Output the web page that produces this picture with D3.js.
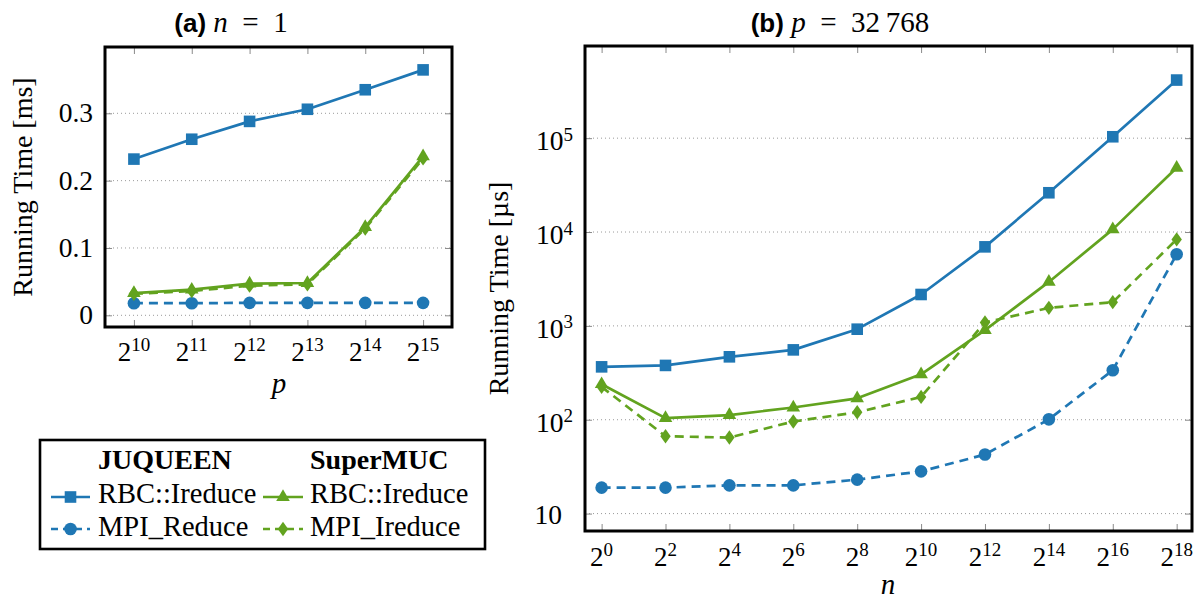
<!DOCTYPE html>
<html><head><meta charset="utf-8">
<script src="https://cdn.jsdelivr.net/npm/d3@7"></script>
<style>
body{margin:0;background:#fff}
svg{display:block}
text{white-space:pre}
</style></head><body>
<svg id="c" width="1201" height="600"></svg>
<script>
// ---------- data ----------
const leftExponents = [10, 11, 12, 13, 14, 15];           // p = 2^e
const leftYTicks = [0, 0.1, 0.2, 0.3];
const leftYTickLabels = ["0", "0.1", "0.2", "0.3"];
const leftRbcJuqueen   = [0.232, 0.2615, 0.288, 0.306, 0.335, 0.3645];
const leftMpiReduce    = [0.018, 0.018, 0.0185, 0.0185, 0.0185, 0.0185];
const leftRbcSuperMUC  = [0.033, 0.038, 0.047, 0.048, 0.131, 0.236];
const leftMpiIreduce   = [0.032, 0.036, 0.044, 0.046, 0.129, 0.233];

const rightExponents = [0, 2, 4, 6, 8, 10, 12, 14, 16, 18]; // n = 2^e
const rightYTicks = [10, 100, 1000, 10000, 100000];
const rightRbcJuqueen  = [366, 379, 468, 555, 922, 2160, 6950, 26200, 103500, 416000];
const rightMpiReduce   = [18.9, 18.9, 20.0, 20.0, 23.0, 28.2, 42.6, 101, 337, 5800];
const rightRbcSuperMUC = [239, 104, 112, 135, 169, 305, 900, 2940, 10670, 48300];
const rightMpiIreduce  = [224, 66.7, 64.6, 95.7, 120, 175, 1087, 1556, 1790, 8340];

const seriesLabels = ["RBC::Ireduce", "MPI_Reduce", "RBC::Ireduce", "MPI_Ireduce"];
const legendHeaders = ["JUQUEEN", "SuperMUC"];
const leftTitle = ["(a)", "n", "  =  1"];
const rightTitle = ["(b)", "p", "  =  32\u2009768"];
const leftYLabel = "Running Time [ms]";
const rightYLabel = "Running Time [\u00b5s]";
const leftXLabel = "p";
const rightXLabel = "n";

// ---------- styles ----------
const BLUE = "#1f77b4", GREEN = "#62a31f";
const SERIF = "'Liberation Serif','Times New Roman',serif";
const SANS = "'Liberation Sans',Arial,sans-serif";
const styles = [
  {color: BLUE,  dash: null,  mark: "square"},
  {color: BLUE,  dash: "9,6", mark: "circle"},
  {color: GREEN, dash: null,  mark: "triangle"},
  {color: GREEN, dash: "9,6", mark: "diamond"}
];

const svg = d3.select("#c");
svg.append("rect").attr("width", 1201).attr("height", 600).attr("fill", "#fff");

function drawMark(g, type, cx, cy, color) {
  if (type === "circle") {
    g.append("circle").attr("cx", cx).attr("cy", cy).attr("r", 6.3).attr("fill", color);
    return;
  }
  let d;
  if (type === "square") d = "M-5.8,-5.8H5.8V5.8H-5.8Z";
  else if (type === "triangle") d = "M0,-7.8L6.8,3.9L-6.8,3.9Z";
  else d = "M0,-7.2L5.2,0L0,7.2L-5.2,0Z";
  g.append("path").attr("d", d).attr("transform", `translate(${cx},${cy})`).attr("fill", color);
}

function panel(cfg) {
  const g = svg.append("g");
  const {x, y, left, right, top, bottom} = cfg;

  // grid
  g.append("g").selectAll("line").data(cfg.yTicks).join("line")
    .attr("x1", left).attr("x2", right)
    .attr("y1", d => y(d)).attr("y2", d => y(d))
    .attr("stroke", "#9a9a9a").attr("stroke-width", 1).attr("stroke-dasharray", "1,3");

  // tick marks via d3 axes
  const tickStyle = sel => {
    sel.select(".domain").remove();
    sel.selectAll(".tick line").attr("stroke", "#8a8a8a").attr("stroke-width", 1);
    sel.selectAll(".tick text").remove();
  };
  g.append("g").attr("transform", `translate(0,${bottom})`)
    .call(d3.axisBottom(x).tickValues(cfg.xTicks).tickSize(-7).tickFormat(() => "")).call(tickStyle);
  g.append("g").attr("transform", `translate(0,${top})`)
    .call(d3.axisTop(x).tickValues(cfg.xTicks).tickSize(-7).tickFormat(() => "")).call(tickStyle);
  g.append("g").attr("transform", `translate(${left},0)`)
    .call(d3.axisLeft(y).tickValues(cfg.yTicks).tickSize(-7).tickFormat(() => "")).call(tickStyle);
  g.append("g").attr("transform", `translate(${right},0)`)
    .call(d3.axisRight(y).tickValues(cfg.yTicks).tickSize(-7).tickFormat(() => "")).call(tickStyle);

  // x tick labels 2^e
  cfg.xTicks.forEach(e => {
    const t = g.append("text").attr("x", x(e)).attr("y", cfg.xLabelY)
      .attr("text-anchor", "middle").attr("font-family", SERIF).attr("font-size", 27).attr("fill", "#000");
    t.append("tspan").text("2");
    t.append("tspan").attr("dy", -10).attr("font-size", 19).text(String(e));
  });

  // y tick labels
  cfg.yTicks.forEach((v, i) => cfg.yLabel(g, v, i));

  // series
  cfg.series.forEach((vals, si) => {
    const st = styles[si];
    const pts = cfg.xs.map((e, i) => [e, vals[i]]);
    const line = d3.line().x(d => x(d[0])).y(d => y(d[1]));
    g.append("path").attr("d", line(pts)).attr("fill", "none")
      .attr("stroke", st.color).attr("stroke-width", 2.7)
      .attr("stroke-dasharray", st.dash).attr("stroke-linejoin", "round");
    const mg = g.append("g");
    pts.forEach(p => drawMark(mg, st.mark, x(p[0]), y(p[1]), st.color));
  });

  // frame
  g.append("rect").attr("x", left).attr("y", top).attr("width", right - left).attr("height", bottom - top)
    .attr("fill", "none").attr("stroke", "#000").attr("stroke-width", 3);

  // title
  const tt = g.append("text").attr("x", cfg.titleX).attr("y", 32).attr("text-anchor", "middle").attr("fill", "#000");
  tt.append("tspan").attr("font-family", SANS).attr("font-weight", "bold").attr("font-size", 26).text(cfg.title[0] + " ");
  tt.append("tspan").attr("font-family", SERIF).attr("font-style", "italic").attr("font-size", 29).text(cfg.title[1]);
  tt.append("tspan").attr("font-family", SERIF).attr("font-size", 29).text(cfg.title[2]);

  // axis labels
  g.append("text").attr("x", cfg.xAxisLabelX).attr("y", cfg.xAxisLabelY).attr("text-anchor", "middle")
    .attr("font-family", SERIF).attr("font-style", "italic").attr("font-size", 29).text(cfg.xAxisLabel);
  g.append("text").attr("transform", `translate(${cfg.yAxisLabelX},${(top + bottom) / 2}) rotate(-90)`)
    .attr("text-anchor", "middle").attr("font-family", SERIF).attr("font-size", 28).text(cfg.yAxisLabel);
}

// ---------- left panel ----------
{
  const left = 105, right = 452, top = 47, bottom = 327;
  const x = d3.scaleLinear().domain([9.5, 15.5]).range([left, right]);
  const y = d3.scaleLinear().domain([-0.01738, 0.39849]).range([bottom, top]);
  panel({
    x, y, left, right, top, bottom,
    xs: leftExponents, xTicks: leftExponents, yTicks: leftYTicks,
    series: [leftRbcJuqueen, leftMpiReduce, leftRbcSuperMUC, leftMpiIreduce],
    xLabelY: 361,
    yLabel: (g, v, i) => g.append("text").attr("x", 93).attr("y", y(v) + 9).attr("text-anchor", "end")
      .attr("font-family", SERIF).attr("font-size", 27.5).text(leftYTickLabels[i]),
    title: leftTitle, titleX: 231,
    xAxisLabel: leftXLabel, xAxisLabelX: 279, xAxisLabelY: 393,
    yAxisLabel: leftYLabel, yAxisLabelX: 32
  });
}

// ---------- right panel ----------
{
  const left = 585, right = 1192, top = 46, bottom = 531;
  const x = d3.scaleLinear().domain([-0.52, 18.48]).range([left, right]);
  const y = d3.scaleLog().domain([Math.pow(10, 0.8145), Math.pow(10, 5.982)]).range([bottom, top]);
  panel({
    x, y, left, right, top, bottom,
    xs: rightExponents, xTicks: rightExponents, yTicks: rightYTicks,
    series: [rightRbcJuqueen, rightMpiReduce, rightRbcSuperMUC, rightMpiIreduce],
    xLabelY: 566,
    yLabel: (g, v) => {
      const e = Math.round(Math.log10(v));
      const t = g.append("text").attr("text-anchor", "end")
        .attr("font-family", SERIF).attr("font-size", 27.5);
      if (e === 1) {
        t.attr("x", 562).attr("y", y(v) + 10).text("10");
      } else {
        t.attr("x", 573).attr("y", y(v) + 12);
        t.append("tspan").text("10");
        t.append("tspan").attr("dy", -9.5).attr("font-size", 19).text(String(e));
      }
    },
    title: rightTitle, titleX: 840,
    xAxisLabel: rightXLabel, xAxisLabelX: 888, xAxisLabelY: 594,
    yAxisLabel: rightYLabel, yAxisLabelX: 508
  });
}

// ---------- legend ----------
{
  const lg = svg.append("g");
  lg.append("rect").attr("x", 40).attr("y", 440).attr("width", 445).attr("height", 109)
    .attr("fill", "#fff").attr("stroke", "#000").attr("stroke-width", 2.6);
  const colX = [98, 310], sampleX = [[51, 90], [263, 303]];
  const rowLineY = [497, 529], rowTextY = [503, 536];
  legendHeaders.forEach((h, c) => {
    lg.append("text").attr("x", colX[c]).attr("y", 469).attr("font-family", SERIF)
      .attr("font-weight", "bold").attr("font-size", 28).text(h);
  });
  seriesLabels.forEach((lab, si) => {
    const c = si < 2 ? 0 : 1, r = si % 2, st = styles[si];
    const [x1, x2] = sampleX[c];
    lg.append("line").attr("x1", x1).attr("x2", x2).attr("y1", rowLineY[r]).attr("y2", rowLineY[r])
      .attr("stroke", st.color).attr("stroke-width", 2.7).attr("stroke-dasharray", st.dash ? "7,5" : null);
    drawMark(lg, st.mark, (x1 + x2) / 2, rowLineY[r], st.color);
    lg.append("text").attr("x", colX[c]).attr("y", rowTextY[r]).attr("font-family", SERIF)
      .attr("font-size", 28.5).text(lab);
  });
}
</script>
</body></html>
